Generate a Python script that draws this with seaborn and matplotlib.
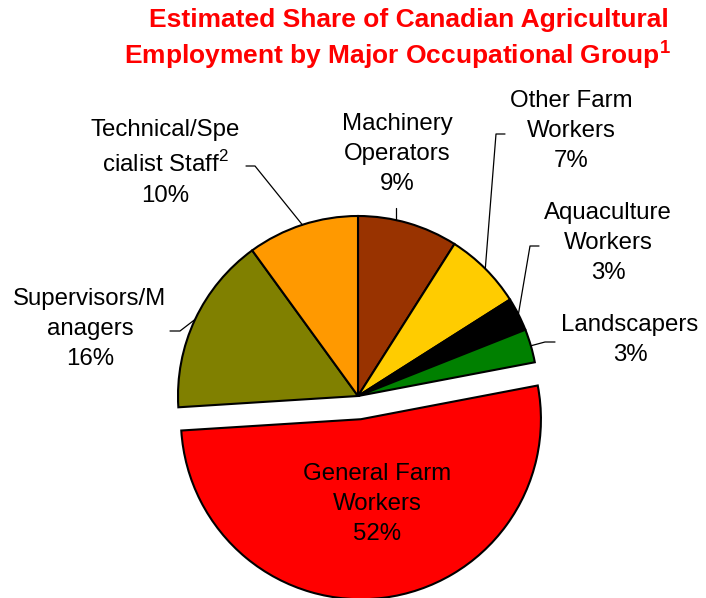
import matplotlib
matplotlib.use("Agg")
import matplotlib.pyplot as plt
import seaborn as sns
import numpy as np

# Occupational groups, clockwise from 12 o'clock
groups = [
    "Machinery\nOperators",
    "Other Farm\nWorkers",
    "Aquaculture\nWorkers",
    "Landscapers",
    "General Farm\nWorkers",
    "Supervisors/M\nanagers",
    "Technical/Spe\ncialist Staff$^2$",
]
shares = [9, 7, 3, 3, 52, 16, 10]
colors = ["#993300", "#FFCC00", "#000000", "#008000", "#FF0000", "#808000", "#FF9900"]
title_lines = ["Estimated Share of Canadian Agricultural",
               "Employment by Major Occupational Group$^\\mathbf{1}$"]

sns.set_theme(style="white")
plt.rcParams["font.family"] = ["Liberation Sans", "DejaVu Sans"]
plt.rcParams["mathtext.fontset"] = "custom"
plt.rcParams["mathtext.rm"] = "Liberation Sans"
plt.rcParams["mathtext.bf"] = "Liberation Sans:bold"

W, H = 706, 598
CX, CY, R = 358, 396, 180  # pie centre and radius in pixels


def px(x, y):
    """Pixel position -> data units of the pie axes."""
    return ((x - CX) / R, (CY - y) / R)


fig = plt.figure(figsize=(W / 100, H / 100), dpi=100)
ax = fig.add_axes([0, 0, 1, 1])
explode = [0.13 if s == max(shares) else 0 for s in shares]
wedges, _ = ax.pie(
    shares, colors=colors, startangle=90, counterclock=False, explode=explode,
    radius=1, wedgeprops=dict(edgecolor="black", linewidth=1.5),
)
ax.set_xlim(-CX / R, (W - CX) / R)
ax.set_ylim(-(H - CY) / R, CY / R)
ax.set_aspect("auto")
ax.axis("off")

# label block centres (pixels) and leader-line elbows
label_pos = [(397, 154), (571, 131), (608, 243), (630, 340), (377, 504), (90, 329), (165, 163)]
leaders = [
    [(396, 208)],
    [(505, 134), (496, 134)],
    [(539, 246), (530, 246)],
    [(555, 342), (545, 342)],
    None,
    [(170, 331), (180, 331)],
    [(246, 166), (255, 166)],
]

for w, name, share, pos, lead in zip(wedges, groups, shares, label_pos, leaders):
    lx, ly = px(*pos)
    ax.text(lx, ly, f"{name}\n{share}%", ha="center", va="center",
            fontsize=17.3, color="black", linespacing=1.47)
    if lead is None:
        continue
    cx, cy = w.center
    pts = [px(*p) for p in lead]
    if len(lead) == 1:
        # vertical tick straight down onto the rim
        x0 = pts[0][0]
        rim = (x0, cy + np.sqrt(w.r ** 2 - (x0 - cx) ** 2))
    else:
        ang = np.deg2rad(0.5 * (w.theta1 + w.theta2))
        rim = (cx + w.r * np.cos(ang), cy + w.r * np.sin(ang))
    xs, ys = zip(*(pts + [rim]))
    ax.plot(xs, ys, color="black", linewidth=0.9)

fig.text(409 / W, 1 - 20 / H, title_lines[0], ha="center", va="center",
         fontsize=19, fontweight="bold", color="#FF0000")
fig.text(397 / W, 1 - 55 / H, title_lines[1], ha="center", va="center",
         fontsize=19, fontweight="bold", color="#FF0000")

fig.savefig("out.png", dpi=100)
